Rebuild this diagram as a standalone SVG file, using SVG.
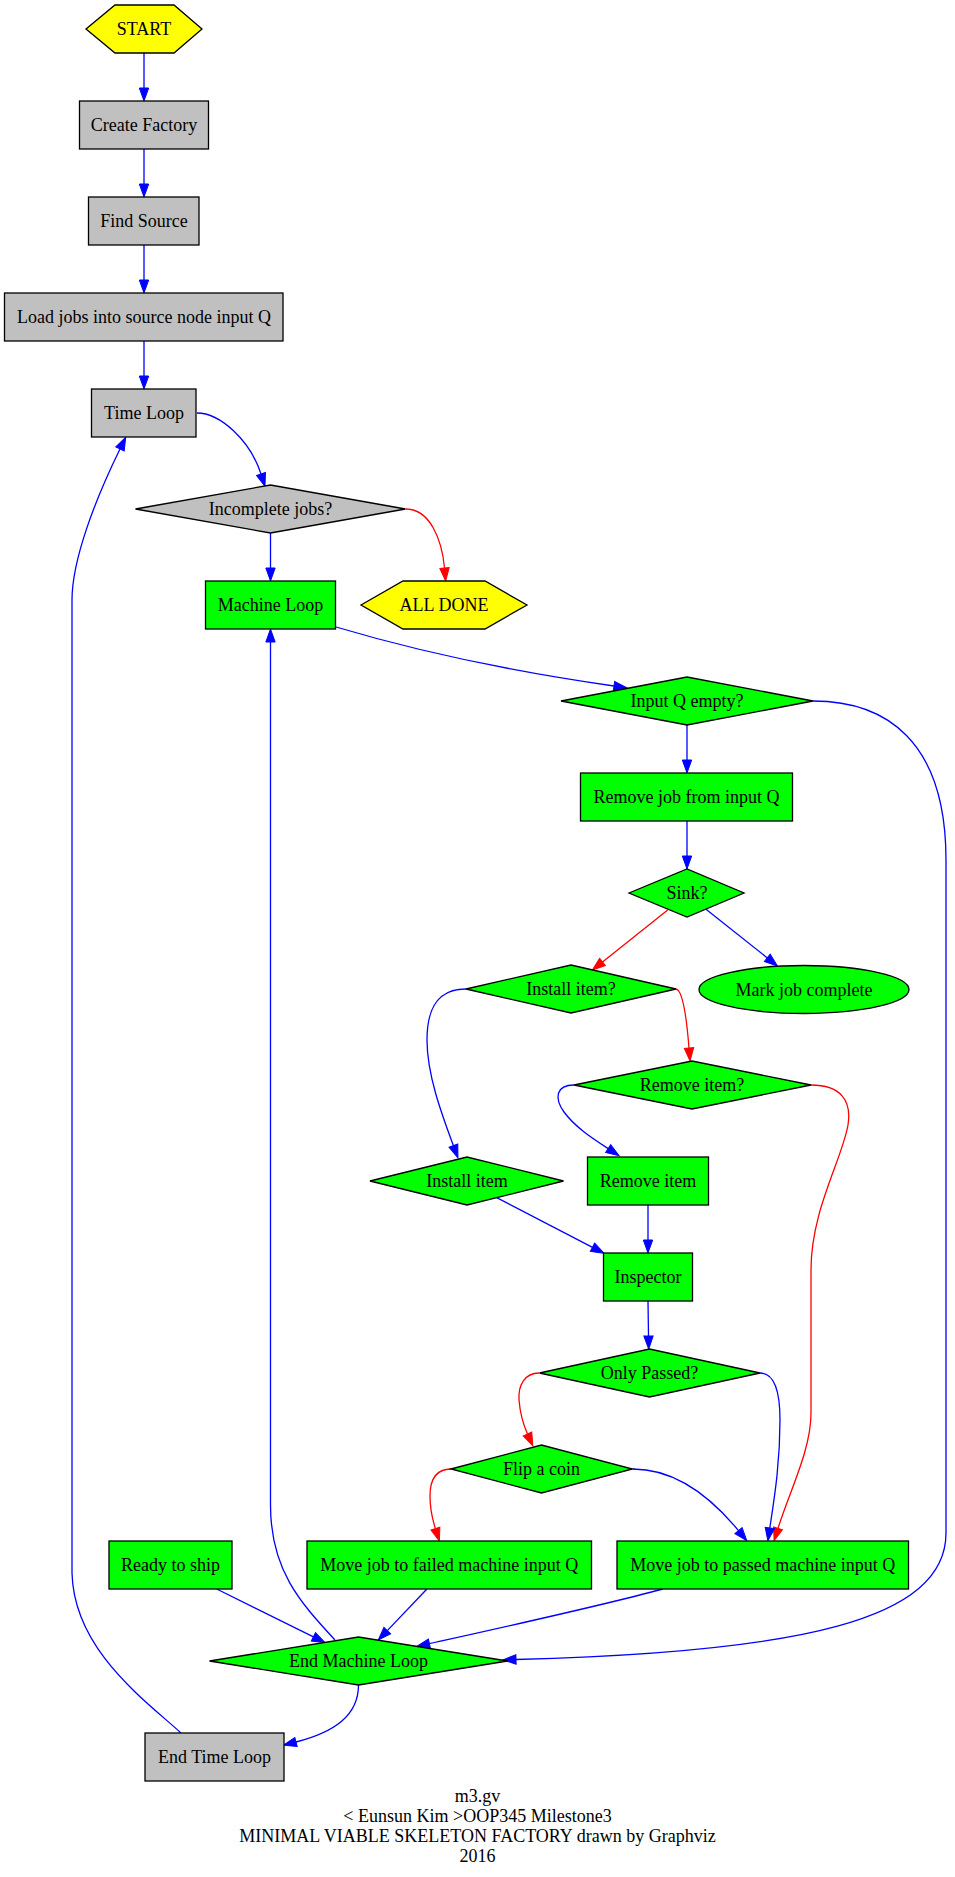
<svg xmlns="http://www.w3.org/2000/svg" width="955" height="1877" viewBox="0 0 955 1877">
<style>
  .n { stroke: #000000; stroke-width: 1.3; }
  .gray { fill: #c0c0c0; }
  .green { fill: #00ff00; }
  .yellow { fill: #ffff00; }
  .t { font-family: "Liberation Serif", "Times New Roman", serif; font-size: 18px; fill: #000000; text-anchor: middle; }
  .e { fill: none; stroke-width: 1.3; }
  .b { stroke: #0000ff; marker-end: url(#ab); }
  .r { stroke: #ff0000; marker-end: url(#ar); }
</style>
<defs>
  <marker id="ab" markerUnits="userSpaceOnUse" markerWidth="16" markerHeight="12" refX="0" refY="4.67" orient="auto" overflow="visible">
    <path d="M0,0 L13,4.67 L0,9.33 z" fill="#0000ff" stroke="#0000ff" stroke-width="1"/>
  </marker>
  <marker id="ar" markerUnits="userSpaceOnUse" markerWidth="16" markerHeight="12" refX="0" refY="4.67" orient="auto" overflow="visible">
    <path d="M0,0 L13,4.67 L0,9.33 z" fill="#ff0000" stroke="#ff0000" stroke-width="1"/>
  </marker>
</defs>
<rect x="0" y="0" width="955" height="1877" fill="#ffffff"/>

<g id="connectors">
  <path class="e b" d="M144,53 L144,88"/>
  <path class="e b" d="M144,149 L144,184"/>
  <path class="e b" d="M144,245 L144,280"/>
  <path class="e b" d="M144,341 L144,376"/>
  <path class="e b" d="M197,413 C220,413 250,440 261,474"/>
  <path class="e r" d="M406,509 C430,509 442,540 444.5,568"/>
  <path class="e b" d="M270.5,533 L270.5,568"/>
  <path class="e b" d="M336,627 C430,655 530,674 614,686"/>
  <path class="e b" d="M687,725 L687,760"/>
  <path class="e b" d="M813,701 C885,701 946,740 946,860 L946,1533 C946,1620 800,1652 516,1659.5"/>
  <path class="e b" d="M687,821 L687,856"/>
  <path class="e r" d="M667.7,910 L602.5,961.9"/>
  <path class="e b" d="M706,909.3 L767.3,957.9"/>
  <path class="e b" d="M466,989 C440,989 427,1005 427,1040 C427,1075 442,1115 453.4,1145.6"/>
  <path class="e r" d="M676,989 C682,990 686,1010 689,1048"/>
  <path class="e b" d="M574,1085 C556,1085 554,1098 564,1112 C575,1127 592,1138 608.2,1148.6"/>
  <path class="e r" d="M811,1085 C840,1085 852,1100 848,1125 C842,1160 811,1210 811,1270 L811,1413 C811,1450 790,1490 778,1528.3"/>
  <path class="e b" d="M648,1205 L648,1240"/>
  <path class="e b" d="M496.7,1197.7 L592.5,1247.3"/>
  <path class="e b" d="M648,1301 L648.5,1336"/>
  <path class="e r" d="M539,1373 C525,1373 518,1385 519,1400 C520,1412 523,1424 527.5,1434"/>
  <path class="e b" d="M760,1373 C772,1373 780,1385 780,1420 C780,1465 774,1500 769.8,1528"/>
  <path class="e r" d="M451,1469 C436,1469 430,1480 430,1496 C430,1508 432,1518 435.4,1528.6"/>
  <path class="e b" d="M633,1469 C670,1469 705,1490 738.5,1530.6"/>
  <path class="e b" d="M426.7,1589.3 L387.3,1630.6"/>
  <path class="e b" d="M663,1589 C600,1606 500,1628 429.4,1643.7"/>
  <path class="e b" d="M216.7,1589 L313.4,1636.9"/>
  <path class="e b" d="M335,1640 C300,1602 270.5,1570 270.5,1505 L270.5,642"/>
  <path class="e b" d="M358.5,1685 C358.5,1715 335,1732 296,1742"/>
  <path class="e b" d="M181,1733 C145,1700 74,1650 72,1573 L72,600 C72,560 95,500 120,449"/>
</g>

<g id="node-start">
  <polygon class="n yellow" points="86,29 115,5 174,5 202,29 174,53 115,53"/>
  <text class="t" x="144" y="35">START</text>
</g>
<g id="node-create-factory">
  <rect class="n gray" x="79.5" y="101" width="129" height="48"/>
  <text class="t" x="144" y="131">Create Factory</text>
</g>
<g id="node-find-source">
  <rect class="n gray" x="88.5" y="197" width="110.5" height="48"/>
  <text class="t" x="144" y="227">Find Source</text>
</g>
<g id="node-load-jobs">
  <rect class="n gray" x="4.5" y="293" width="278.5" height="48"/>
  <text class="t" x="144" y="323">Load jobs into source node input Q</text>
</g>
<g id="node-time-loop">
  <rect class="n gray" x="91.5" y="389" width="104.5" height="48"/>
  <text class="t" x="144" y="419">Time Loop</text>
</g>
<g id="node-incomplete-jobs">
  <polygon class="n gray" points="135.5,509 270.5,485 405.5,509 270.5,533"/>
  <text class="t" x="270.5" y="515">Incomplete jobs?</text>
</g>
<g id="node-machine-loop">
  <rect class="n green" x="205.5" y="581" width="130" height="48"/>
  <text class="t" x="270.5" y="611">Machine Loop</text>
</g>
<g id="node-all-done">
  <polygon class="n yellow" points="361,605 403,581 485,581 527,605 485,629 403,629"/>
  <text class="t" x="444" y="611">ALL DONE</text>
</g>
<g id="node-input-q-empty">
  <polygon class="n green" points="561,701 687,677 813,701 687,725"/>
  <text class="t" x="687" y="707">Input Q empty?</text>
</g>
<g id="node-remove-job">
  <rect class="n green" x="580.5" y="773" width="212" height="48"/>
  <text class="t" x="686.5" y="803">Remove job from input Q</text>
</g>
<g id="node-sink">
  <polygon class="n green" points="629,893 687,869 744,893 687,917"/>
  <text class="t" x="687" y="899">Sink?</text>
</g>
<g id="node-install-item-q">
  <polygon class="n green" points="466,989 571,965 676,989 571,1013"/>
  <text class="t" x="571" y="995">Install item?</text>
</g>
<g id="node-mark-job-complete">
  <ellipse class="n green" cx="804" cy="989.5" rx="105" ry="24"/>
  <text class="t" x="804" y="995.5">Mark job complete</text>
</g>
<g id="node-remove-item-q">
  <polygon class="n green" points="574,1085 692,1061 811,1085 692,1109"/>
  <text class="t" x="692" y="1091">Remove item?</text>
</g>
<g id="node-install-item">
  <polygon class="n green" points="370,1181 467,1157 563.5,1181 467,1205"/>
  <text class="t" x="467" y="1187">Install item</text>
</g>
<g id="node-remove-item">
  <rect class="n green" x="587.5" y="1157" width="121" height="48"/>
  <text class="t" x="648" y="1187">Remove item</text>
</g>
<g id="node-inspector">
  <rect class="n green" x="603.5" y="1253" width="89" height="48"/>
  <text class="t" x="648" y="1283">Inspector</text>
</g>
<g id="node-only-passed">
  <polygon class="n green" points="539.5,1373 649.5,1349 760,1373 649.5,1397"/>
  <text class="t" x="649.5" y="1379">Only Passed?</text>
</g>
<g id="node-flip-coin">
  <polygon class="n green" points="451,1469 541.5,1445 632.5,1469 541.5,1493"/>
  <text class="t" x="541.5" y="1475">Flip a coin</text>
</g>
<g id="node-ready-to-ship">
  <rect class="n green" x="109" y="1541" width="123" height="48"/>
  <text class="t" x="170.5" y="1571">Ready to ship</text>
</g>
<g id="node-move-failed">
  <rect class="n green" x="307" y="1541" width="284.5" height="48"/>
  <text class="t" x="449.25" y="1571">Move job to failed machine input Q</text>
</g>
<g id="node-move-passed">
  <rect class="n green" x="617" y="1541" width="291.5" height="48"/>
  <text class="t" x="762.75" y="1571">Move job to passed machine input Q</text>
</g>
<g id="node-end-machine-loop">
  <polygon class="n green" points="209.5,1661 358.5,1637 507.5,1661 358.5,1685"/>
  <text class="t" x="358.5" y="1667">End Machine Loop</text>
</g>
<g id="node-end-time-loop">
  <rect class="n gray" x="145" y="1733" width="139" height="48"/>
  <text class="t" x="214.5" y="1763">End Time Loop</text>
</g>

<g id="caption">
  <text class="t" x="477.5" y="1802">m3.gv</text>
  <text class="t" x="477.5" y="1822">&lt; Eunsun Kim &gt;OOP345 Milestone3</text>
  <text class="t" x="477.5" y="1842">MINIMAL VIABLE SKELETON FACTORY drawn by Graphviz</text>
  <text class="t" x="477.5" y="1862">2016</text>
</g>
</svg>
